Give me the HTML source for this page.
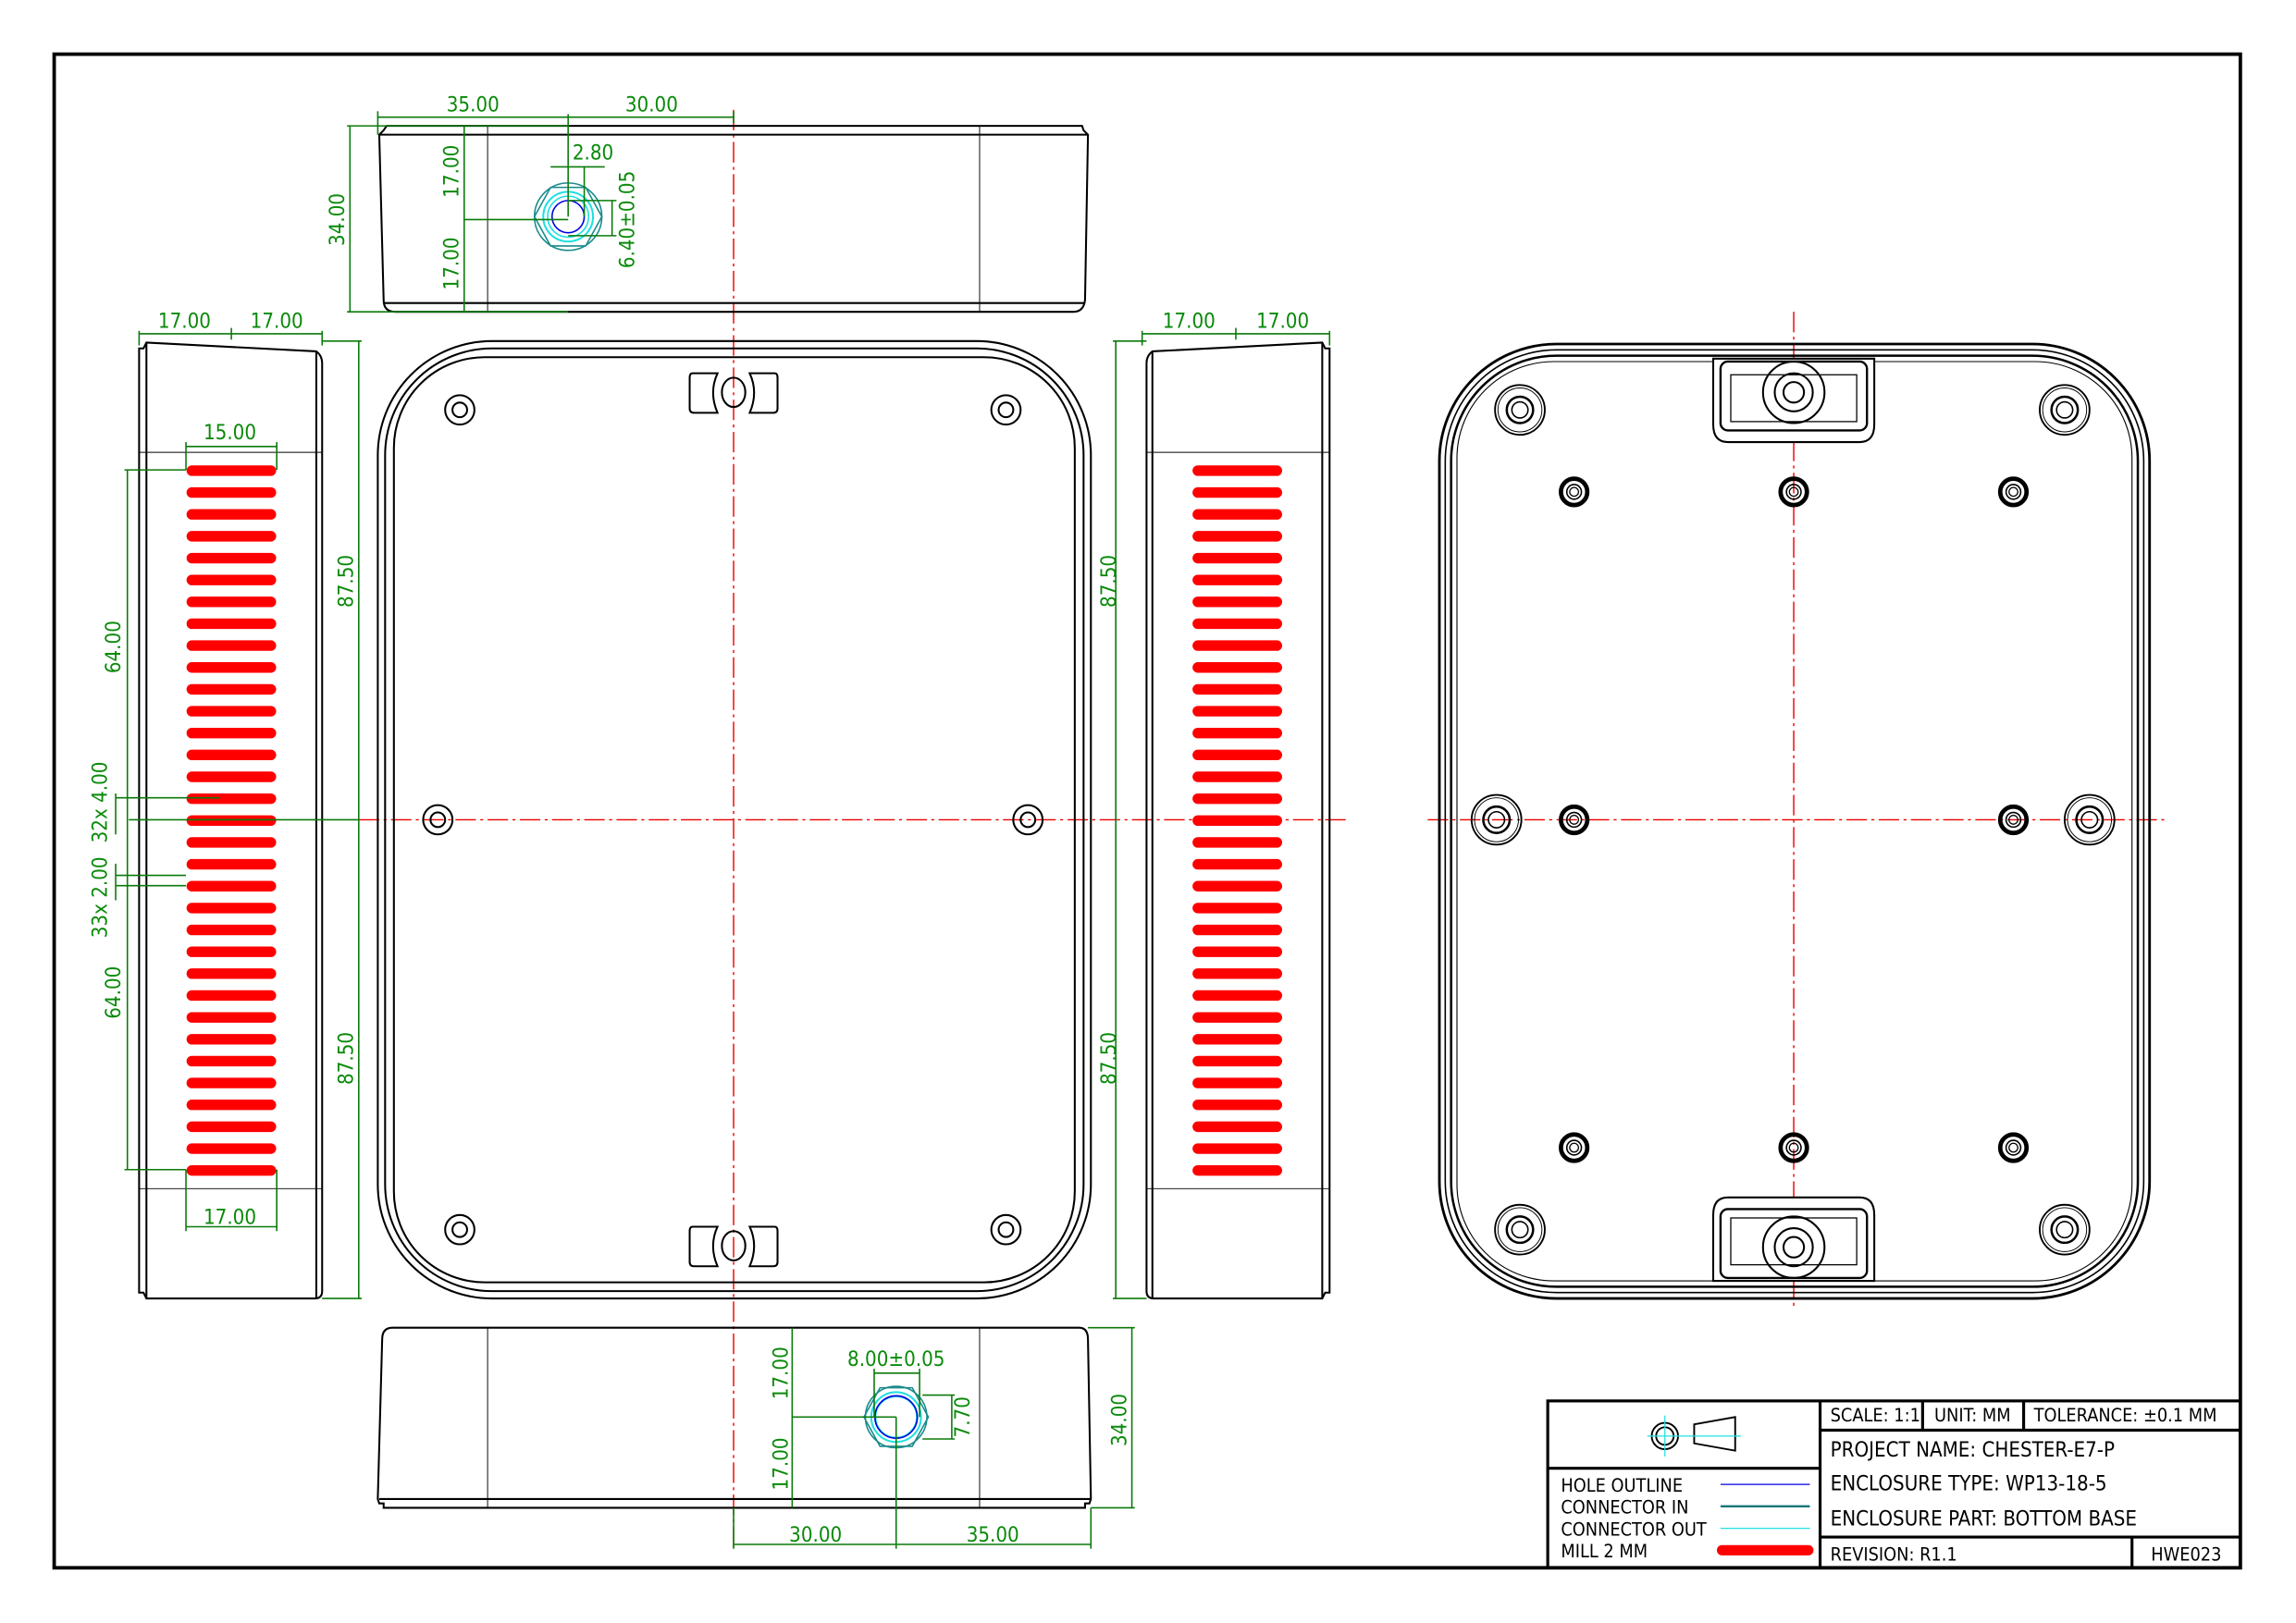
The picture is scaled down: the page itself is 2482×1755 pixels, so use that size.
<!DOCTYPE html>
<html><head><meta charset="utf-8"><style>
html,body{margin:0;padding:0;background:#fff;}
svg{display:block}
.k{fill:none;stroke:#000;stroke-width:1.3}
.t{fill:none;stroke:#000;stroke-width:0.6}
.g{fill:none;stroke:#0a7a0a;stroke-width:1}
.gt{fill:#0a8a0a;font-family:"DejaVu Sans Condensed","DejaVu Sans",sans-serif;font-size:14px;text-anchor:middle}
.c{fill:none;stroke:#e00;stroke-width:0.9;stroke-dasharray:14 3 2 3}
.tb{font-family:"DejaVu Sans Condensed","DejaVu Sans",sans-serif;font-size:12.5px;fill:#000}
</style></head><body>
<svg width="2482" height="1755" viewBox="0 0 1568 1108.7" xmlns="http://www.w3.org/2000/svg">
<rect x="37" y="37" width="1493" height="1034" fill="none" stroke="#000" stroke-width="2.4"/>

<!-- centre lines -->
<line class="c" x1="501" y1="75" x2="501" y2="1060"/>
<line class="c" x1="245" y1="560" x2="920" y2="560"/>
<line class="c" x1="975" y1="560" x2="1480" y2="560"/>
<line class="c" x1="1225" y1="213" x2="1225" y2="892"/>

<!-- TOP PANEL -->
<path class="k" d="M264 86 L739 86 L740 89 L743 92 L741 205 Q740 213 733 213 L270 213 Q262 213 262 205 L259 92 L262 89 Z"/>
<line class="k" x1="259" y1="92" x2="743" y2="92"/>
<line class="k" x1="262" y1="207" x2="741" y2="207"/>
<line class="t" x1="333" y1="86" x2="333" y2="213"/>
<line class="t" x1="669" y1="86" x2="669" y2="213"/>
<circle cx="388" cy="148" r="23" fill="none" stroke="#1a8a8a" stroke-width="1"/>
<polygon points="365,148 376,128 400,128 411,148 400,168 376,168" fill="none" stroke="#1a8a8a" stroke-width="1"/>
<circle cx="388" cy="148" r="17" fill="none" stroke="#20e0e0" stroke-width="1.3"/>
<circle cx="388" cy="148" r="14" fill="none" stroke="#20e0e0" stroke-width="1"/>
<circle cx="388" cy="148" r="11" fill="none" stroke="#0000dd" stroke-width="1"/>
<!-- top panel dims -->
<g class="g">
<line x1="258" y1="80" x2="501" y2="80"/><line x1="258" y1="76" x2="258" y2="92"/><line x1="501" y1="76" x2="501" y2="84"/>
<line x1="388" y1="78" x2="388" y2="148"/>
<line x1="239" y1="86" x2="239" y2="213"/><line x1="237" y1="86" x2="388" y2="86"/><line x1="237" y1="213" x2="388" y2="213"/>
<line x1="317" y1="86" x2="317" y2="213"/><line x1="317" y1="150" x2="388" y2="150"/>
<line x1="376" y1="114" x2="413" y2="114"/><line x1="399" y1="114" x2="399" y2="148"/>
<line x1="418" y1="137" x2="418" y2="161"/><line x1="388" y1="137" x2="421" y2="137"/><line x1="388" y1="161" x2="421" y2="161"/>
</g>
<text class="gt" x="323" y="76">35.00</text>
<text class="gt" x="445" y="76">30.00</text>
<text class="gt" x="405" y="109">2.80</text>
<text class="gt" transform="translate(235,150) rotate(-90)">34.00</text>
<text class="gt" transform="translate(313,117) rotate(-90)">17.00</text>
<text class="gt" transform="translate(313,180) rotate(-90)">17.00</text>
<text class="gt" transform="translate(433,150) rotate(-90)">6.40±0.05</text>

<!-- LEFT SIDE VIEW -->
<path class="k" d="M100 234 L216 240 Q220 243 220 248 L220 882 Q220 887 215 887 L100 887 L98 883 L95 883 L95 238 L98 238 Z"/>
<line class="k" x1="100" y1="234" x2="100" y2="887"/>
<line class="k" x1="216" y1="240" x2="216" y2="887"/>
<line class="t" x1="95" y1="309" x2="220" y2="309"/>
<line class="t" x1="95" y1="812" x2="220" y2="812"/>
<g id="slotsL"></g>
<g class="g">
<line x1="95" y1="228" x2="220" y2="228"/><line x1="95" y1="226" x2="95" y2="236"/><line x1="220" y1="226" x2="220" y2="236"/><line x1="158" y1="224" x2="158" y2="232"/>
<line x1="245" y1="233" x2="245" y2="887"/><line x1="220" y1="233" x2="247" y2="233"/><line x1="220" y1="887" x2="247" y2="887"/>
<line x1="88" y1="560" x2="245" y2="560"/>
<line x1="127" y1="305" x2="189" y2="305"/><line x1="127" y1="302" x2="127" y2="321"/><line x1="189" y1="302" x2="189" y2="321"/>
<line x1="127" y1="838" x2="189" y2="838"/><line x1="127" y1="799" x2="127" y2="841"/><line x1="189" y1="799" x2="189" y2="841"/>
<line x1="87" y1="321" x2="87" y2="799"/><line x1="85" y1="321" x2="127" y2="321"/><line x1="85" y1="799" x2="127" y2="799"/>
<line x1="79" y1="542" x2="79" y2="570"/><line x1="79" y1="545" x2="150" y2="545"/>
<line x1="79" y1="590" x2="79" y2="615"/><line x1="79" y1="598" x2="127" y2="598"/><line x1="79" y1="605" x2="127" y2="605"/>
</g>
<text class="gt" x="126" y="224">17.00</text>
<text class="gt" x="189" y="224">17.00</text>
<text class="gt" x="157" y="300">15.00</text>
<text class="gt" x="157" y="836">17.00</text>
<text class="gt" transform="translate(241,397) rotate(-90)">87.50</text>
<text class="gt" transform="translate(241,723) rotate(-90)">87.50</text>
<text class="gt" transform="translate(82,442) rotate(-90)">64.00</text>
<text class="gt" transform="translate(82,678) rotate(-90)">64.00</text>
<text class="gt" transform="translate(73,548) rotate(-90)">32x 4.00</text>
<text class="gt" transform="translate(73,613) rotate(-90)">33x 2.00</text>

<!-- RIGHT SIDE VIEW -->
<path class="k" d="M903 234 L787 240 Q783 243 783 248 L783 882 Q783 887 788 887 L903 887 L905 883 L908 883 L908 238 L905 238 Z"/>
<line class="k" x1="903" y1="234" x2="903" y2="887"/>
<line class="k" x1="787" y1="240" x2="787" y2="887"/>
<line class="t" x1="783" y1="309" x2="908" y2="309"/>
<line class="t" x1="783" y1="812" x2="908" y2="812"/>
<g id="slotsR"></g>
<g class="g">
<line x1="780" y1="228" x2="908" y2="228"/><line x1="780" y1="226" x2="780" y2="236"/><line x1="908" y1="226" x2="908" y2="236"/><line x1="844" y1="224" x2="844" y2="232"/>
<line x1="762" y1="233" x2="762" y2="887"/><line x1="760" y1="233" x2="783" y2="233"/><line x1="760" y1="887" x2="783" y2="887"/>
</g>
<text class="gt" x="812" y="224">17.00</text>
<text class="gt" x="876" y="224">17.00</text>
<text class="gt" transform="translate(762,397) rotate(-90)">87.50</text>
<text class="gt" transform="translate(762,723) rotate(-90)">87.50</text>

<!-- MAIN VIEW -->
<rect class="k" x="258" y="233" width="487" height="654" rx="78"/>
<rect class="k" x="263" y="238" width="477" height="644" rx="73"/>
<rect class="k" x="269" y="244" width="465" height="632" rx="62"/>
<g class="k">
<circle cx="314" cy="280" r="10"/><circle cx="314" cy="280" r="5"/>
<circle cx="687" cy="280" r="10"/><circle cx="687" cy="280" r="5"/>
<circle cx="299" cy="560" r="10"/><circle cx="299" cy="560" r="5"/>
<circle cx="702" cy="560" r="10"/><circle cx="702" cy="560" r="5"/>
<circle cx="314" cy="840" r="10"/><circle cx="314" cy="840" r="5"/>
<circle cx="687" cy="840" r="10"/><circle cx="687" cy="840" r="5"/>
<path d="M490 255 L473 255 Q471 255 471 258 L471 279 Q471 282 474 282 L490 282 Q484 268 490 255 Z"/>
<path d="M512 255 L529 255 Q531 255 531 258 L531 279 Q531 282 528 282 L512 282 Q518 268 512 255 Z"/>
<ellipse cx="501" cy="268" rx="8" ry="10"/>
<path d="M490 838 L473 838 Q471 838 471 841 L471 862 Q471 865 474 865 L490 865 Q484 851 490 838 Z"/>
<path d="M512 838 L529 838 Q531 838 531 841 L531 862 Q531 865 528 865 L512 865 Q518 851 512 838 Z"/>
<ellipse cx="501" cy="851" rx="8" ry="10"/>
</g>

<!-- BOTTOM PANEL -->
<path class="k" d="M268 907 L737 907 Q743 907 743 915 L745 1024 L744 1027 L741 1027 L741 1030 L262 1030 L262 1027 L259 1027 L258 1024 L261 915 Q261 907 268 907 Z"/>
<line class="k" x1="259" y1="1024" x2="745" y2="1024"/>
<line class="t" x1="333" y1="907" x2="333" y2="1030"/>
<line class="t" x1="669" y1="907" x2="669" y2="1030"/>
<polygon points="590,968 601,948 623,948 634,968 623,988 601,988" fill="none" stroke="#1a8a8a" stroke-width="1"/>
<circle cx="612" cy="968" r="21" fill="none" stroke="#1a8a8a" stroke-width="1"/>
<circle cx="612" cy="968" r="17" fill="none" stroke="#20e0e0" stroke-width="1.3"/>
<circle cx="612" cy="968" r="14" fill="none" stroke="#20e0e0" stroke-width="1"/>
<circle cx="612" cy="968" r="14.5" fill="none" stroke="#0000dd" stroke-width="1"/>
<g class="g">
<line x1="773" y1="907" x2="773" y2="1030"/><line x1="743" y1="907" x2="775" y2="907"/><line x1="745" y1="1030" x2="775" y2="1030"/>
<line x1="541" y1="907" x2="541" y2="1030"/><line x1="541" y1="968" x2="612" y2="968"/>
<line x1="597" y1="938" x2="628" y2="938"/><line x1="597" y1="935" x2="597" y2="968"/><line x1="628" y1="935" x2="628" y2="968"/>
<line x1="650" y1="953" x2="650" y2="983"/><line x1="630" y1="953" x2="652" y2="953"/><line x1="630" y1="983" x2="652" y2="983"/>
<line x1="501" y1="1055" x2="745" y2="1055"/><line x1="501" y1="1030" x2="501" y2="1058"/><line x1="745" y1="1030" x2="745" y2="1058"/><line x1="612" y1="968" x2="612" y2="1058"/>
</g>
<text class="gt" x="612" y="933">8.00±0.05</text>
<text class="gt" x="557" y="1053">30.00</text>
<text class="gt" x="678" y="1053">35.00</text>
<text class="gt" transform="translate(769,970) rotate(-90)">34.00</text>
<text class="gt" transform="translate(538,938) rotate(-90)">17.00</text>
<text class="gt" transform="translate(538,1000) rotate(-90)">17.00</text>
<text class="gt" transform="translate(662,968) rotate(-90)">7.70</text>

<!-- RIGHT BOTTOM VIEW -->
<g class="k">
<rect x="983" y="235" width="485" height="652" rx="80" stroke-width="1.8"/>
<rect x="987" y="239" width="477" height="644" rx="76" stroke-width="1"/>
<rect x="991" y="243" width="469" height="636" rx="72" stroke-width="1.6"/>
<rect x="995" y="247" width="461" height="628" rx="66" stroke-width="0.7"/>
<path d="M1170 245 L1280 245 L1280 290 Q1280 302 1270 302 L1180 302 Q1170 302 1170 290 Z" fill="#fff"/>
<rect x="1175" y="247" width="100" height="47" rx="5" stroke-width="1.5"/>
<rect x="1182" y="256" width="86" height="32" stroke-width="0.8"/>
<circle cx="1225" cy="268" r="21"/><circle cx="1225" cy="268" r="13"/><circle cx="1225" cy="268" r="7"/>
<path d="M1170 875 L1280 875 L1280 830 Q1280 818 1270 818 L1180 818 Q1170 818 1170 830 Z" fill="#fff"/>
<rect x="1175" y="826" width="100" height="47" rx="5" stroke-width="1.5"/>
<rect x="1182" y="832" width="86" height="32" stroke-width="0.8"/>
<circle cx="1225" cy="852" r="21"/><circle cx="1225" cy="852" r="13"/><circle cx="1225" cy="852" r="7"/>
</g>
<g id="boss"></g>

<!-- TITLE BLOCK -->
<g fill="none" stroke="#000" stroke-width="2">
<rect x="1057" y="957" width="473" height="114"/>
<line x1="1243" y1="957" x2="1243" y2="1071"/>
<line x1="1057" y1="1003" x2="1243" y2="1003"/>
<line x1="1243" y1="977" x2="1530" y2="977"/>
<line x1="1243" y1="1050" x2="1530" y2="1050"/>
<line x1="1313" y1="957" x2="1313" y2="977"/>
<line x1="1382" y1="957" x2="1382" y2="977"/>
<line x1="1456" y1="1050" x2="1456" y2="1071"/>
</g>
<g fill="none" stroke="#000" stroke-width="1.2">
<circle cx="1137" cy="981" r="9"/><circle cx="1137" cy="981" r="6"/>
<polygon points="1157,973 1185,968 1185,991 1157,986"/>
</g>
<line x1="1125" y1="981" x2="1189" y2="981" stroke="#20e0e0" stroke-width="0.8"/>
<line x1="1137" y1="967" x2="1137" y2="995" stroke="#20e0e0" stroke-width="0.8"/>
<line x1="1175" y1="1014" x2="1236" y2="1014" stroke="#0000dd" stroke-width="0.8"/>
<line x1="1175" y1="1029" x2="1236" y2="1029" stroke="#117777" stroke-width="1.5"/>
<line x1="1175" y1="1044" x2="1236" y2="1044" stroke="#20e0e0" stroke-width="0.8"/>
<line x1="1176" y1="1059" x2="1235" y2="1059" stroke="#f00" stroke-width="7" stroke-linecap="round"/>
<text class="tb" x="1066" y="1019">HOLE OUTLINE</text>
<text class="tb" x="1066" y="1034">CONNECTOR IN</text>
<text class="tb" x="1066" y="1049">CONNECTOR OUT</text>
<text class="tb" x="1066" y="1064">MILL 2 MM</text>
<text class="tb" x="1250" y="971">SCALE: 1:1</text>
<text class="tb" x="1321" y="971">UNIT: MM</text>
<text class="tb" x="1389" y="971">TOLERANCE: ±0.1 MM</text>
<text class="tb" x="1250" y="995" style="font-size:14px">PROJECT NAME: CHESTER-E7-P</text>
<text class="tb" x="1250" y="1018" style="font-size:14px">ENCLOSURE TYPE: WP13-18-5</text>
<text class="tb" x="1250" y="1042" style="font-size:14px">ENCLOSURE PART: BOTTOM BASE</text>
<text class="tb" x="1250" y="1066">REVISION: R1.1</text>
<text class="tb" x="1469" y="1066">HWE023</text>
</svg>
<script>
var NS="http://www.w3.org/2000/svg";
function mk(p,tag,a){var e=document.createElementNS(NS,tag);for(var k in a)e.setAttribute(k,a[k]);p.appendChild(e);return e;}
var L=document.getElementById("slotsL"),R=document.getElementById("slotsR");
for(var i=0;i<33;i++){var y=321.5+i*14.94;
mk(L,"line",{x1:131,y1:y,x2:185,y2:y,stroke:"#f00","stroke-width":7.2,"stroke-linecap":"round"});
mk(R,"line",{x1:818,y1:y,x2:872,y2:y,stroke:"#f00","stroke-width":7.2,"stroke-linecap":"round"});}
var B=document.getElementById("boss");
[[1038,280],[1410,280],[1038,840],[1410,840],[1022,560],[1427,560]].forEach(function(p){
mk(B,"circle",{cx:p[0],cy:p[1],r:17,fill:"none",stroke:"#000","stroke-width":1.2});
mk(B,"circle",{cx:p[0],cy:p[1],r:15,fill:"none",stroke:"#000","stroke-width":0.6});
mk(B,"circle",{cx:p[0],cy:p[1],r:9,fill:"none",stroke:"#000","stroke-width":1.6});
mk(B,"circle",{cx:p[0],cy:p[1],r:5.5,fill:"none",stroke:"#000","stroke-width":1});});
[[1075,336],[1225,336],[1375,336],[1075,560],[1375,560],[1075,784],[1225,784],[1375,784]].forEach(function(p){
mk(B,"circle",{cx:p[0],cy:p[1],r:9,fill:"none",stroke:"#000","stroke-width":3});
mk(B,"circle",{cx:p[0],cy:p[1],r:5,fill:"none",stroke:"#000","stroke-width":1});
mk(B,"circle",{cx:p[0],cy:p[1],r:3,fill:"none",stroke:"#000","stroke-width":0.8});});
</script>
</body></html>
